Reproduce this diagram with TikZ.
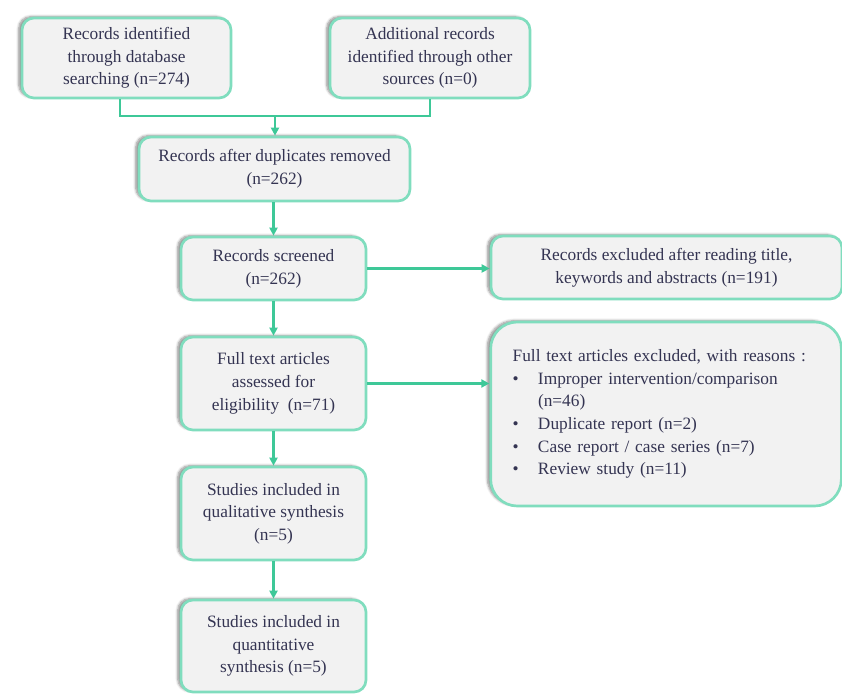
\documentclass[tikz,border=0pt]{standalone}
\usepackage{fontspec}
\setmainfont{Liberation Serif}
\usetikzlibrary{arrows.meta,shadows.blur}
\definecolor{boxfill}{RGB}{242,242,242}
\definecolor{boxline}{RGB}{128,221,190}
\definecolor{flowline}{RGB}{62,200,152}
\definecolor{boxtext}{RGB}{52,52,82}
\begin{document}
\begin{tikzpicture}[x=0.75pt,y=-0.75pt,
	box/.style={draw=boxline, line width=2pt, fill=boxfill, rounded corners=9pt,
		text=boxtext, align=center, inner sep=2pt,
		font=\fontsize{13}{17}\selectfont,
		blur shadow={shadow xshift=-2.5pt, shadow yshift=1pt, shadow blur steps=6, shadow opacity=45}},
	flow/.style={draw=flowline, line width=1.6pt, -{Triangle[length=6pt,width=6pt]}}]
	
	\useasboundingbox (0,0) rectangle (842,698);
	
	% identification
	\node [box, minimum width=156.75pt, minimum height=60pt] (dbrec) at (126.5,58)
		{Records identified\\through database\\searching (n=274)};
	\node [box, minimum width=150pt, minimum height=60pt] (otherrec) at (430,58)
		{Additional records\\identified through other\\sources (n=0)};
	\coordinate (join) at (275,116);
	\node [box, minimum width=203.25pt, minimum height=48pt] (dupes) at (274.5,169)
		{Records after duplicates removed\\(n=262)};
	
	% screening
	\node [box, minimum width=138.75pt, minimum height=47.25pt] (screened) at (273.5,268.5)
		{Records screened\\(n=262)};
	\node [box, minimum width=263.25pt, minimum height=47.25pt] (excl) at (666.5,267.5)
		{Records excluded after reading title,\\keywords and abstracts (n=191)};
	
	% eligibility
	\node [box, minimum width=138.75pt, minimum height=69.75pt] (fulltext) at (273.5,383.5)
		{Full text articles\\assessed for\\eligibility\ \ (n=71)};
	\node [box, rounded corners=20pt, text width=230pt, align=left, inner xsep=16.5pt,
		minimum height=138pt] (ftexcl) at (666,414)
		{Full text articles excluded, with reasons :\\
		\makebox[19pt][l]{\textbullet}Improper intervention/comparison\\
		\hspace*{19pt}(n=46)\\
		\makebox[19pt][l]{\textbullet}Duplicate report (n=2)\\
		\makebox[19pt][l]{\textbullet}Case report / case series (n=7)\\
		\makebox[19pt][l]{\textbullet}Review study (n=11)};
	
	% included
	\node [box, minimum width=138.75pt, minimum height=69.75pt] (qual) at (273.5,513.5)
		{Studies included in\\qualitative synthesis\\(n=5)};
	\node [box, minimum width=138.75pt, minimum height=69pt] (quant) at (273.5,646)
		{Studies included in\\quantitative\\synthesis (n=5)};
	
	\draw [draw=flowline, line width=1.6pt] ([xshift=-5pt]dbrec.south) |- (join) -| (otherrec.south);
	\draw [flow] (join) -- (dupes.north -| join);
	\draw [flow] (dupes.south -| screened) -- (screened.north);
	\draw [flow] (screened) -- (fulltext);
	\draw [flow] (fulltext) -- (qual);
	\draw [flow] (qual) -- (quant);
	\draw [flow] (screened.east) -- (excl.west |- screened.east);
	\draw [flow] (fulltext.east) -- (ftexcl.west |- fulltext.east);
\end{tikzpicture}
\end{document}
